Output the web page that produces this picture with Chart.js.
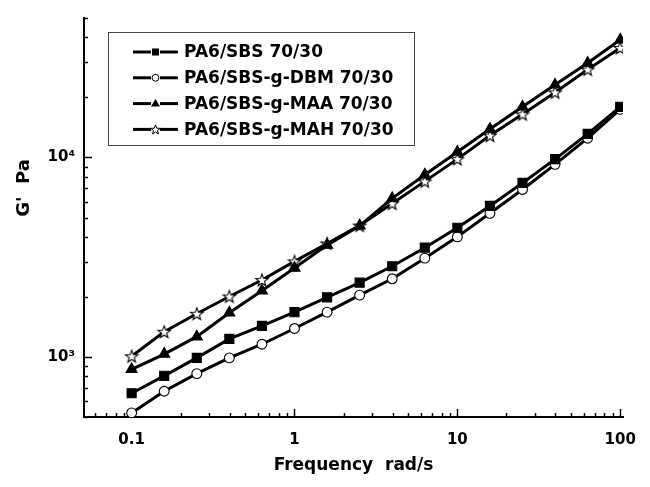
<!DOCTYPE html>
<html>
<head>
<meta charset="utf-8">
<script src="https://cdn.jsdelivr.net/npm/chart.js@4.4.1/dist/chart.umd.min.js"></script>
<style>
  html, body { margin: 0; padding: 0; background: #ffffff; }
  canvas { display: block; }
</style>
</head>
<body>
<canvas id="c" width="650" height="487"></canvas>
<script>
// ---- data ----
const frequency = [0.1, 0.1585, 0.2512, 0.3981, 0.631, 1, 1.585, 2.512, 3.981, 6.31, 10, 15.85, 25.12, 39.81, 63.1, 100];
const gSBS = [658, 804, 989, 1232, 1431, 1677, 1988, 2356, 2847, 3529, 4441, 5716, 7452, 9809, 13120, 17940];
const gDBM = [524, 673, 825, 989, 1158, 1389, 1677, 2040, 2465, 3127, 3998, 5246, 6906, 9238, 12490, 17410];
const gMAA = [867, 1034, 1264, 1664, 2145, 2792, 3635, 4543, 6237, 8185, 10650, 13890, 17940, 23110, 29750, 38900];
const gMAH = [1008, 1337, 1646, 2010, 2429, 3012, 3705, 4558, 5873, 7586, 9809, 12870, 16460, 21180, 27580, 35380];
const seriesLabels = ['PA6/SBS 70/30', 'PA6/SBS-g-DBM 70/30', 'PA6/SBS-g-MAA 70/30', 'PA6/SBS-g-MAH 70/30'];
const xTickValues = [0.1, 1, 10, 100];
const xTickLabels = ['0.1', '1', '10', '100'];
const yTickValues = [1000, 10000];
const yTickLabels = ['10\u00B3', '10\u2074'];
const xTitle = 'Frequency  rad/s';
const yTitle = "G'  Pa";

// ---- star marker image ----
function starPath(ctx, cx, cy, ro, ri) {
  ctx.beginPath();
  for (let i = 0; i < 10; i++) {
    const r = i % 2 === 0 ? ro : ri;
    const a = -Math.PI / 2 + i * Math.PI / 5;
    const px = cx + r * Math.cos(a), py = cy + r * Math.sin(a);
    if (i === 0) ctx.moveTo(px, py); else ctx.lineTo(px, py);
  }
  ctx.closePath();
}
function makeStar(size, ro, ri) {
  const cv = document.createElement('canvas');
  cv.width = size; cv.height = size;
  const c = cv.getContext('2d');
  starPath(c, size / 2, size / 2 + 0.5, ro, ri);
  c.fillStyle = '#fff'; c.fill();
  c.strokeStyle = '#000'; c.lineWidth = 1.1; c.stroke();
  return cv;
}
const starImg = makeStar(16, 6.5, 2.7);

const pts = arr => frequency.map((f, i) => ({ x: f, y: arr[i] }));

const datasets = [
  { label: seriesLabels[0], data: pts(gSBS), pointStyle: 'rect', pointRadius: 6.4, pointBackgroundColor: '#000' },
  { label: seriesLabels[1], data: pts(gDBM), pointStyle: 'circle', pointRadius: 4.9, pointBackgroundColor: '#fff' },
  { label: seriesLabels[2], data: pts(gMAA), pointStyle: 'triangle', pointRadius: 6.4, pointBackgroundColor: '#000' },
  { label: seriesLabels[3], data: pts(gMAH), pointStyle: starImg, pointRadius: 7, pointBackgroundColor: '#fff' }
].map(d => Object.assign({
  borderColor: '#000', borderWidth: 3, pointBorderColor: '#000', pointBorderWidth: 1.1,
  pointHoverRadius: 0, tension: 0, fill: false
}, d));

// ---- plugin: inward ticks, y title, legend box ----
const decor = {
  id: 'decor',
  beforeDatasetsDraw(chart) {
    const ctx = chart.ctx;
    const xs = chart.scales.x, ys = chart.scales.y;
    const area = chart.chartArea;
    ctx.save();
    ctx.strokeStyle = '#000';
    ctx.lineWidth = 1.5;
    // x ticks
    for (let d = -2; d <= 2; d++) {
      for (let m = 1; m <= 9; m++) {
        const v = m * Math.pow(10, d);
        if (v < xs.min || v > xs.max) continue;
        const px = Math.round(xs.getPixelForValue(v)) + 0.5;
        const len = m === 1 ? 8 : 4;
        ctx.beginPath(); ctx.moveTo(px, area.bottom); ctx.lineTo(px, area.bottom - len); ctx.stroke();
      }
    }
    // y ticks
    for (let d = 2; d <= 4; d++) {
      for (let m = 1; m <= 9; m++) {
        const v = m * Math.pow(10, d);
        if (v < ys.min - 1e-6 || v > ys.max + 1e-6) continue;
        const py = Math.round(ys.getPixelForValue(v)) + 0.5;
        const len = m === 1 ? 8 : 4;
        ctx.beginPath(); ctx.moveTo(area.left, py); ctx.lineTo(area.left + len, py); ctx.stroke();
      }
    }
    ctx.restore();
  },
  afterDraw(chart) {
    const ctx = chart.ctx;
    ctx.save();
    // y title
    ctx.translate(24, 188);
    ctx.rotate(-Math.PI / 2);
    ctx.font = 'bold 18px "DejaVu Sans"';
    ctx.fillStyle = '#000';
    ctx.textAlign = 'center';
    ctx.textBaseline = 'middle';
    ctx.fillText(yTitle, 0, 0);
    ctx.restore();

    // legend
    ctx.save();
    ctx.fillStyle = '#fff';
    ctx.fillRect(108.5, 32.5, 306, 113);
    ctx.strokeStyle = '#444';
    ctx.lineWidth = 1;
    ctx.strokeRect(108.5, 32.5, 306, 113);
    const y0 = 52, dy = 25.8;
    chart.data.datasets.forEach((ds, i) => {
      const y = y0 + i * dy;
      ctx.strokeStyle = '#000';
      ctx.lineWidth = 3;
      ctx.beginPath(); ctx.moveTo(133, y); ctx.lineTo(151, y); ctx.stroke();
      ctx.beginPath(); ctx.moveTo(160, y); ctx.lineTo(178, y); ctx.stroke();
      const cx = 155.5;
      ctx.lineWidth = 1;
      if (i === 0) {
        ctx.fillStyle = '#000'; ctx.fillRect(cx - 3.5, y - 3.5, 7, 7);
      } else if (i === 1) {
        ctx.beginPath(); ctx.arc(cx, y, 3.4, 0, Math.PI * 2);
        ctx.fillStyle = '#fff'; ctx.fill(); ctx.strokeStyle = '#000'; ctx.stroke();
      } else if (i === 2) {
        ctx.beginPath(); ctx.moveTo(cx, y - 4.5); ctx.lineTo(cx + 4.5, y + 3); ctx.lineTo(cx - 4.5, y + 3); ctx.closePath();
        ctx.fillStyle = '#000'; ctx.fill();
      } else {
        starPath(ctx, cx, y + 0.5, 5, 2.1);
        ctx.fillStyle = '#fff'; ctx.fill(); ctx.strokeStyle = '#000'; ctx.stroke();
      }
      ctx.fillStyle = '#000';
      ctx.font = 'bold 17px "DejaVu Sans"';
      ctx.textAlign = 'left';
      ctx.textBaseline = 'middle';
      ctx.fillText(ds.label, 184, y + 1);
    });
    ctx.restore();
  }
};

new Chart(document.getElementById('c'), {
  type: 'line',
  data: { datasets },
  plugins: [decor],
  options: {
    responsive: false,
    animation: false,
    devicePixelRatio: 1,
    layout: { padding: { left: 0, right: 22, top: 10, bottom: 0 } },
    plugins: { legend: { display: false }, tooltip: { enabled: false }, title: { display: false } },
    scales: {
      x: {
        type: 'logarithmic',
        position: 'bottom',
        min: 0.051,
        max: 104,
        afterBuildTicks: s => { s.ticks = xTickValues.map(v => ({ value: v, major: true })); },
        afterFit: s => { s.height = 70; },
        grid: { display: false, drawTicks: false },
        border: { display: true, color: '#000', width: 2 },
        ticks: {
          autoSkip: false, maxRotation: 0, padding: 14, color: '#000',
          font: { family: 'DejaVu Sans', size: 15, weight: 'bold' },
          callback: v => { const i = xTickValues.indexOf(v); return i >= 0 ? xTickLabels[i] : ''; }
        },
        title: {
          display: true, text: xTitle, color: '#000',
          font: { family: 'DejaVu Sans', size: 17, weight: 'bold' },
          padding: { top: 0, bottom: 11 }
        }
      },
      y: {
        type: 'logarithmic',
        position: 'left',
        min: 500,
        max: 50000,
        afterBuildTicks: s => { s.ticks = yTickValues.map(v => ({ value: v, major: true })); },
        afterFit: s => { s.width = 84; },
        grid: { display: false, drawTicks: false },
        border: { display: true, color: '#000', width: 2 },
        ticks: {
          autoSkip: false, padding: 9, color: '#000',
          font: { family: 'DejaVu Sans', size: 15, weight: 'bold' },
          callback: v => { const i = yTickValues.indexOf(v); return i >= 0 ? yTickLabels[i] : ''; }
        }
      }
    }
  }
});
</script>
</body>
</html>
